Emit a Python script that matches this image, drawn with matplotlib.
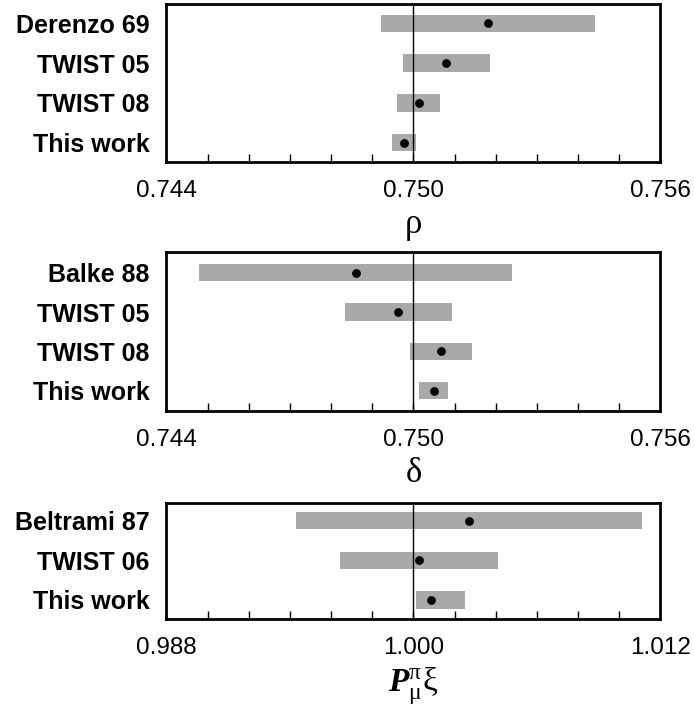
import numpy as np
import matplotlib
matplotlib.use("Agg")
import matplotlib.pyplot as plt

# datos
rho_labels = ["Derenzo 69", "TWIST 05", "TWIST 08", "This work"]
rho_vals = [0.7518, 0.7508, 0.75013, 0.74977]
rho_err_lo = [0.0026, 0.00105, 0.00052, 0.00029]
rho_err_hi = [0.0026, 0.00105, 0.00051, 0.00029]

delta_labels = ["Balke 88", "TWIST 05", "TWIST 08", "This work"]
delta_vals = [0.7486, 0.74963, 0.75067, 0.75049]
delta_err_lo = [0.0038, 0.0013, 0.00075, 0.00036]
delta_err_hi = [0.0038, 0.0013, 0.00074, 0.00035]

p_labels = ["Beltrami 87", "TWIST 06", "This work"]
p_vals = [1.0027, 1.00028, 1.00084]
p_err_lo = [0.0084, 0.00385, 0.0007]
p_err_hi = [0.0084, 0.00385, 0.00168]

rho_ticks = ["0.744", "0.750", "0.756"]
p_ticks = ["0.988", "1.000", "1.012"]

gris = "#a9a9ab"

plt.rcParams["font.family"] = ["Liberation Sans", "DejaVu Sans"]
plt.rcParams["mathtext.fontset"] = "custom"
plt.rcParams["mathtext.rm"] = "Liberation Serif"
plt.rcParams["mathtext.it"] = "Liberation Serif:italic"
plt.rcParams["mathtext.bf"] = "Liberation Serif:bold"
plt.rcParams["mathtext.bfit"] = "Liberation Serif:italic:bold"

fig = plt.figure(figsize=(6.94, 7.08), dpi=100)

paneles = [
    # (posicion, etiquetas, valores, err-, err+, centro, ticks, ylim, xlabel)
    ([0.2399, 0.7712, 0.7118, 0.2232], rho_labels, rho_vals, rho_err_lo, rho_err_hi,
     0.750, rho_ticks, (3.485, -0.485), "ρ"),
    ([0.2399, 0.4195, 0.7118, 0.2246], delta_labels, delta_vals, delta_err_lo, delta_err_hi,
     0.750, rho_ticks, (3.516, -0.526), "δ"),
    ([0.2399, 0.1264, 0.7118, 0.1636], p_labels, p_vals, p_err_lo, p_err_hi,
     1.000, p_ticks, (2.467, -0.454), r"$\mathbfit{P}_{\mathrm{\mu}}^{\mathrm{\pi}}\mathrm{\xi}$"),
]

for pos, etiquetas, vals, elo, ehi, centro, ticks, ylim, xlab in paneles:
    ax = fig.add_axes(pos)
    filas = np.arange(len(etiquetas))
    vals = np.array(vals)
    izq = vals - np.array(elo)
    der = vals + np.array(ehi)
    ax.barh(filas, der - izq, left=izq, height=0.436, color=gris, zorder=1)
    ax.axvline(centro, color="black", lw=1.0, zorder=2)
    ax.plot(vals, filas, "o", color="black", ms=5.3, zorder=3)

    paso = 0.001 if centro < 0.9 else 0.002
    xt = np.arange(-6, 7) * paso + centro
    ax.set_xlim(xt[0], xt[-1])
    lab = [""] * len(xt)
    lab[0], lab[6], lab[12] = ticks
    ax.set_xticks(xt, lab)
    ax.set_yticks(filas, etiquetas)
    ax.set_ylim(*ylim)

    ax.tick_params(axis="x", direction="in", length=5.5, width=1, pad=13, labelsize=17.5)
    ax.tick_params(axis="y", length=0, pad=12, labelsize=18)
    for t in ax.get_yticklabels():
        t.set_fontweight("bold")
    for s in ax.spines.values():
        s.set_linewidth(2)

    if xlab.startswith("$"):
        ax.set_xlabel(xlab, fontsize=24, labelpad=5)
    else:
        ax.set_xlabel(xlab, fontsize=25, family="Liberation Serif", labelpad=4)

plt.savefig("out.png", dpi=100)
